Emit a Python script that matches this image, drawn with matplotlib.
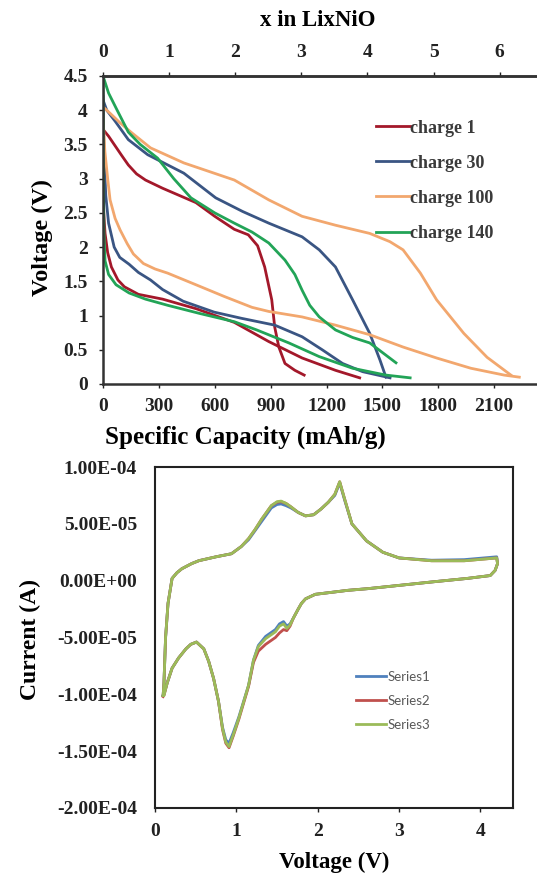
import numpy as np
import matplotlib.pyplot as plt

# ---- galvanostatic curves (capacity mAh/g, voltage V) ----
c1_up_cap = [0, 30, 65, 100, 136, 180, 228, 320, 499, 600, 705, 780, 830, 868, 906, 922, 944, 977, 1030, 1080]
c1_up_v = [3.72, 3.62, 3.48, 3.34, 3.2, 3.07, 2.98, 2.86, 2.65, 2.45, 2.26, 2.18, 2.02, 1.71, 1.23, 0.83, 0.54, 0.3, 0.2, 0.13]
c1_lo_cap = [0, 4, 11, 25, 45, 80, 115, 190, 320, 500, 705, 890, 1069, 1248, 1378]
c1_lo_v = [3.0, 2.5, 2.2, 1.92, 1.71, 1.52, 1.42, 1.31, 1.24, 1.1, 0.9, 0.62, 0.38, 0.2, 0.09]

c30_up_cap = [0, 20, 65, 136, 240, 434, 605, 750, 890, 1069, 1161, 1248, 1340, 1432, 1487, 1519]
c30_up_v = [4.15, 4.0, 3.84, 3.57, 3.35, 3.08, 2.72, 2.52, 2.35, 2.15, 1.96, 1.71, 1.23, 0.74, 0.35, 0.1]
c30_lo_cap = [0, 6, 15, 30, 60, 90, 140, 190, 255, 320, 430, 597, 743, 922, 1069, 1177, 1286, 1394, 1541]
c30_lo_v = [4.2, 3.3, 2.75, 2.35, 2.0, 1.85, 1.75, 1.63, 1.52, 1.38, 1.21, 1.05, 0.96, 0.86, 0.69, 0.5, 0.3, 0.18, 0.09]

c100_up_cap = [0, 40, 90, 150, 255, 434, 705, 890, 1069, 1248, 1432, 1540, 1611, 1704, 1791, 1937, 2062, 2190]
c100_up_v = [4.05, 3.95, 3.82, 3.68, 3.45, 3.23, 2.98, 2.69, 2.45, 2.32, 2.2, 2.08, 1.96, 1.62, 1.23, 0.74, 0.39, 0.13]
c100_lo_cap = [0, 10, 25, 38, 65, 92, 130, 163, 217, 280, 347, 499, 650, 800, 890, 1069, 1248, 1432, 1611, 1791, 1975, 2154, 2235]
c100_lo_v = [3.9, 3.4, 3.0, 2.69, 2.42, 2.25, 2.05, 1.9, 1.76, 1.68, 1.62, 1.45, 1.28, 1.12, 1.06, 0.98, 0.86, 0.72, 0.54, 0.38, 0.23, 0.13, 0.1]

c140_up_cap = [0, 30, 76, 136, 200, 293, 380, 472, 600, 705, 800, 890, 977, 1030, 1069, 1110, 1161, 1248, 1340, 1432, 1573]
c140_up_v = [4.5, 4.25, 4.0, 3.68, 3.5, 3.3, 3.0, 2.72, 2.5, 2.35, 2.22, 2.06, 1.81, 1.6, 1.37, 1.15, 0.98, 0.79, 0.68, 0.6, 0.31]
c140_lo_cap = [0, 2, 5, 11, 30, 70, 140, 228, 347, 520, 705, 825, 998, 1161, 1340, 1519, 1649]
c140_lo_v = [4.4, 3.0, 2.2, 1.8, 1.6, 1.45, 1.33, 1.24, 1.15, 1.03, 0.91, 0.79, 0.6, 0.4, 0.23, 0.13, 0.09]

labels_top = ["charge 1", "charge 30", "charge 100", "charge 140"]
colors_top = ["#A3182A", "#3A5583", "#F2A76E", "#22A457"]

# ---- cyclic voltammetry (V, current in 1e-5 A) ----
cv_v = [0.10, 0.11, 0.13, 0.16, 0.21, 0.27, 0.33, 0.45, 0.54, 0.75, 0.94, 1.06, 1.15, 1.23, 1.31,
        1.43, 1.50, 1.55, 1.61, 1.67, 1.76, 1.85, 1.95, 2.04, 2.13, 2.21, 2.27, 2.33, 2.42, 2.6,
        2.8, 3.0, 3.4, 3.8, 4.2, 4.21, 4.18, 4.12, 3.84, 3.42, 3.02, 2.62, 2.37, 2.2, 1.97,
        1.85, 1.80, 1.76, 1.70, 1.66, 1.62, 1.58, 1.53, 1.48, 1.36, 1.27, 1.21, 1.15, 1.03, 0.96,
        0.91, 0.87, 0.83, 0.78, 0.72, 0.66, 0.60, 0.51, 0.44, 0.38, 0.29, 0.21, 0.15, 0.11, 0.10]
s1_i = [-10.1, -9.0, -5.0, -2.0, 0.2, 0.7, 1.05, 1.5, 1.76, 2.1, 2.37, 3.0, 3.6, 4.4, 5.2,
        6.4, 6.7, 6.75, 6.6, 6.4, 6.0, 5.7, 5.8, 6.3, 6.9, 7.5, 8.6, 7.1, 5.0, 3.5,
        2.5, 2.0, 1.8, 1.85, 2.1, 1.5, 0.9, 0.45, 0.2, -0.1, -0.4, -0.7, -0.85, -1.0, -1.2,
        -1.6, -2.0, -2.5, -3.3, -3.8, -4.0, -3.6, -3.8, -4.3, -4.9, -5.7, -7.0, -9.2, -12.0, -13.4,
        -14.3, -14.0, -12.9, -10.6, -8.6, -7.1, -6.0, -5.4, -5.6, -6.0, -6.8, -7.7, -9.0, -10.0, -10.1]
s2_i = [-10.1, -9.0, -5.0, -2.0, 0.2, 0.7, 1.05, 1.5, 1.76, 2.1, 2.37, 3.0, 3.7, 4.5, 5.4,
        6.6, 6.9, 6.95, 6.8, 6.5, 6.0, 5.7, 5.8, 6.3, 6.9, 7.6, 8.7, 7.2, 5.0, 3.5,
        2.5, 2.0, 1.75, 1.75, 2.0, 1.5, 0.9, 0.45, 0.2, -0.1, -0.4, -0.7, -0.85, -1.0, -1.2,
        -1.6, -2.0, -2.5, -3.3, -4.0, -4.4, -4.3, -4.6, -5.0, -5.6, -6.2, -7.2, -9.3, -12.2, -13.7,
        -14.7, -14.3, -13.1, -10.6, -8.6, -7.1, -6.0, -5.4, -5.6, -6.0, -6.8, -7.7, -9.0, -10.1, -10.2]
s3_i = [-10.1, -9.0, -5.0, -2.0, 0.2, 0.7, 1.05, 1.5, 1.76, 2.1, 2.37, 3.0, 3.7, 4.5, 5.4,
        6.6, 6.95, 7.0, 6.8, 6.5, 6.0, 5.7, 5.8, 6.3, 6.9, 7.6, 8.7, 7.2, 5.0, 3.5,
        2.5, 2.0, 1.75, 1.75, 2.0, 1.5, 0.9, 0.45, 0.2, -0.1, -0.4, -0.7, -0.85, -1.0, -1.2,
        -1.6, -2.0, -2.5, -3.3, -3.9, -4.2, -3.8, -4.0, -4.5, -5.1, -5.8, -7.0, -9.2, -12.1, -13.6,
        -14.6, -14.2, -13.0, -10.6, -8.6, -7.1, -6.0, -5.4, -5.6, -6.0, -6.8, -7.7, -9.0, -10.1, -10.1]
cv_labels = ["Series1", "Series2", "Series3"]
cv_colors = ["#4F81BD", "#C0504D", "#9BBB59"]

serif = "Liberation Serif"
plt.rcParams["font.family"] = serif
plt.rcParams["font.weight"] = "bold"

W, H = 537, 874
fig = plt.figure(figsize=(W / 100, H / 100), dpi=100)

# ---------------- top panel ----------------
ax = fig.add_axes([103 / W, 1 - 384 / H, 434 / W, 308 / H])
curves = [
    (c1_up_cap, c1_up_v, c1_lo_cap, c1_lo_v),
    (c30_up_cap, c30_up_v, c30_lo_cap, c30_lo_v),
    (c100_up_cap, c100_up_v, c100_lo_cap, c100_lo_v),
    (c140_up_cap, c140_up_v, c140_lo_cap, c140_lo_v),
]
for (uc, uv, lc, lv), lab, col in zip(curves, labels_top, colors_top):
    ax.plot(uc, uv, color=col, lw=2, label=lab, solid_joinstyle="round")
    ax.plot(lc, lv, color=col, lw=2, solid_joinstyle="round")

ax.set_xlim(0, 2330)
ax.set_ylim(0, 4.5)
ax.set_xticks(np.arange(0, 2101, 300))
ax.set_yticks(np.arange(0, 4.51, 0.5))
ax.set_yticklabels(["0", "0.5", "1", "1.5", "2", "2.5", "3", "3.5", "4", "4.5"])
ax.tick_params(labelsize=14, length=3, width=1, colors="#222222")
ax.tick_params(axis="x", pad=7)
ax.tick_params(axis="y", pad=8)
ax.spines["right"].set_visible(False)
for s in ["left", "bottom", "top"]:
    ax.spines[s].set_linewidth(1.8)
    ax.spines[s].set_color("#333333")

top = ax.secondary_xaxis("top", functions=(lambda c: c / 355.0, lambda x: x * 355.0))
top.set_xticks(range(0, 7))
top.tick_params(labelsize=14, length=3, width=1, colors="#222222", pad=8)
top.spines["top"].set_linewidth(1.8)
top.spines["top"].set_color("#333333")

fig.text(318 / W, 1 - 21 / H, "x in LixNiO", fontsize=16.5, fontweight="bold",
         ha="center", va="center")
fig.text(245 / W, 1 - 437 / H, "Specific Capacity (mAh/g)", fontsize=18,
         fontweight="bold", ha="center", va="center")
fig.text(42 / W, 1 - 238 / H, "Voltage (V)", fontsize=17.5, fontweight="bold",
         ha="center", va="center", rotation=90)

leg = ax.legend(loc="upper left", bbox_to_anchor=(0.592, 0.911), frameon=False,
                handlelength=1.85, handletextpad=0.0, labelspacing=1.0,
                prop={"family": serif, "weight": "bold", "size": 13})
for t in leg.get_texts():
    t.set_color("#3a3a3a")

# ---------------- bottom panel ----------------
bx = fig.add_axes([155 / W, 1 - 808 / H, 358 / W, 341 / H])
for ii, lab, col in zip([s1_i, s2_i, s3_i], cv_labels, cv_colors):
    bx.plot(cv_v, np.array(ii) * 1e-5, color=col, lw=2, label=lab, solid_joinstyle="round")

bx.set_xlim(0, 4.4)
bx.set_ylim(-2e-4, 1e-4)
bx.set_xticks(range(0, 5))
yt = np.arange(-2e-4, 1.01e-4, 5e-5)
bx.set_yticks(yt)
bx.set_yticklabels(["%.2E" % (0.0 if abs(v) < 1e-12 else v) for v in yt])
bx.tick_params(labelsize=14, length=3, width=1, colors="#222222")
bx.tick_params(axis="x", pad=8)
bx.tick_params(axis="y", length=0, pad=13)
for s in bx.spines.values():
    s.set_linewidth(1.5)
    s.set_color("#222222")

fig.text(334 / W, 1 - 862 / H, "Voltage (V)", fontsize=16.5, fontweight="bold",
         ha="center", va="center")
fig.text(30 / W, 1 - 639 / H, "Current (A)", fontsize=17, fontweight="bold",
         ha="center", va="center", rotation=90)

leg2 = bx.legend(loc="upper left", bbox_to_anchor=(0.528, 0.437), frameon=False,
                 handlelength=2.3, handletextpad=0.1, labelspacing=0.9,
                 prop={"family": "Lato", "weight": "normal", "size": 9.5})
for t in leg2.get_texts():
    t.set_color("#595959")

fig.savefig("out.png", dpi=100)
